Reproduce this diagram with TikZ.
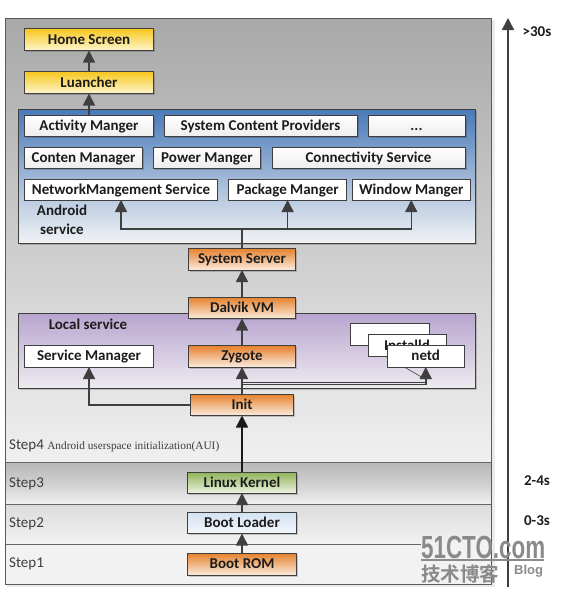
\documentclass[tikz,border=0pt]{standalone}
\usepackage{fontspec}
\setmainfont{Carlito}
\newfontfamily\serifsmall{Liberation Serif}
\newfontfamily\cjkwm{Noto Sans CJK SC}[BoldFont={* Bold}]
\newfontfamily\wmfont{Liberation Sans}
\usetikzlibrary{arrows.meta,shadows,shadings}
\definecolor{ink}{HTML}{1C1C1C}
\definecolor{edge}{HTML}{3F3F3F}
\definecolor{wmgray}{HTML}{8A8A8A}
\definecolor{yelT}{HTML}{F7C71C}
\definecolor{yelB}{HTML}{FEF6CF}
\definecolor{orgT}{HTML}{E5802B}
\definecolor{orgB}{HTML}{FBEBDE}
\definecolor{grnT}{HTML}{8FB358}
\definecolor{grnB}{HTML}{EDF2E0}
\definecolor{bluT}{HTML}{D3E2F2}
\definecolor{bluB}{HTML}{F2F6FB}
\definecolor{panT}{HTML}{4A7AB8}
\definecolor{panB}{HTML}{F1F3F5}
\definecolor{purT}{HTML}{B8A5CF}
\definecolor{purB}{HTML}{EEEBF0}
\newcommand\bx[7]{\node[#1,minimum width={(#5)-(#3)},minimum height={(#6)-(#4)}] (#2) at ({((#3)+(#5))/2},{((#4)+(#6))/2}) {#7};}
\tikzset{
  base/.style={draw=edge,line width=.8pt,inner sep=0pt,outer sep=0pt,font=\fontsize{15}{17}\selectfont\bfseries,text=ink,text height=10.5pt,text depth=1.5pt},
  sh/.style={drop shadow={shadow xshift=1.6pt,shadow yshift=-1.6pt,opacity=.18,fill=black}},
  yellowbox/.style={base,sh,top color=yelT,bottom color=yelB},
  orangebox/.style={base,sh,top color=orgT,bottom color=orgB},
  greenbox/.style={base,sh,top color=grnT,bottom color=grnB},
  bluebox/.style={base,sh,top color=bluT,bottom color=bluB},
  whitebox/.style={base,sh,top color=white,bottom color=black!7},
  plainbox/.style={base,fill=white},
  panelblue/.style={base,sh,top color=panT,bottom color=panB},
  panelpurple/.style={base,sh,top color=purT,bottom color=purB},
  band/.style={draw=none,inner sep=0pt,outer sep=0pt},
  lab/.style={font=\fontsize{15}{17}\selectfont\bfseries,text=ink,inner sep=0pt},
  steplab/.style={font=\fontsize{15}{17}\selectfont,text=ink!85,inner sep=0pt,anchor=west},
  timelab/.style={font=\fontsize{15}{17}\selectfont\bfseries,text=ink,inner sep=0pt},
  arr/.style={draw=edge,line width=1.5pt,-{Triangle[length=12pt,width=12pt]}},
  arrdark/.style={draw=black!90,line width=1.7pt,-{Triangle[length=12pt,width=12pt]}},
  thinline/.style={draw=edge,line width=.6pt},
  divider/.style={draw=black!60,line width=1pt},
  wm/.style={inner sep=0pt,text=wmgray}
}
\begin{document}
\begin{tikzpicture}[x=1pt,y=-1pt]
\useasboundingbox (0,0) rectangle (563,603);
% right shadow of the outer panel
\fill[black!8] (7,20) rectangle (495,587);
% bands
\bx{band,top color=black!34,bottom color=black!6}{s4}{5.5}{18}{491.7}{462}{}
\bx{band,top color=black!28,bottom color=black!6,middle color=black!19}{s3}{5.5}{462}{491.7}{504}{}
\bx{band,top color=black!14,bottom color=black!5}{s2}{5.5}{504}{491.7}{544}{}
\bx{band,fill=black!5}{s1}{5.5}{544}{491.7}{584}{}
\coordinate (dividerend) at (421,544);
\draw[divider] (s4.south west) -- (s4.south east);
\draw[divider] (s3.south west) -- (s3.south east);
\draw[divider] (s2.south west) -- (dividerend);
\draw[draw=black!65,line width=.9pt] (s4.north west) rectangle (s1.south east);
% panels
\bx{panelblue}{android}{18.5}{109.5}{475.7}{243.5}{}
\bx{panelpurple}{local}{18.5}{313.5}{475.7}{388.5}{}
% top boxes
\bx{yellowbox}{home}{24.5}{28.5}{153.5}{50.5}{Home Screen}
\bx{yellowbox}{launcher}{24.5}{71.5}{153.5}{93.5}{Luancher}
% android services
\bx{whitebox}{activity}{24.5}{115}{153.5}{136}{Activity Manger}
\bx{whitebox}{providers}{164}{115}{357}{136}{System Content Providers}
\bx{whitebox}{more}{368}{115}{465}{136}{...}
\bx{whitebox}{content}{24.5}{147}{142.5}{168}{Conten Manager}
\bx{whitebox}{power}{153.5}{147}{260.5}{168}{Power Manger}
\bx{whitebox}{connect}{272}{147}{465}{168}{Connectivity Service}
\bx{plainbox}{network}{24.5}{179}{217.5}{200}{NetworkMangement Service}
\bx{plainbox}{package}{228.5}{179}{346.7}{200}{Package Manger}
\bx{plainbox}{window}{352}{179}{470.5}{200}{Window Manger}
\node[lab,align=center,font=\fontsize{15}{19}\selectfont\bfseries] (androidlab) at (62,220) {Android\\service};
% chain
\bx{orangebox}{server}{188.5}{248}{295.5}{270}{System Server}
\bx{orangebox}{dalvik}{188.5}{297}{295.5}{318.5}{Dalvik VM}
\node[lab] (locallab) at (88,324) {Local service};
\coordinate (junction) at (425,379);
\bx{plainbox}{svcmgr}{24.5}{345.5}{153.5}{367}{Service Manager}
\bx{orangebox}{zygote}{188.5}{345.5}{295.5}{367}{Zygote}
\bx{plainbox}{initone}{350.7}{323.5}{429}{345.5}{}
\draw[thinline] (367,345.5) -- (junction);
\bx{plainbox}{installd}{368}{334.5}{446}{356.5}{Installd}
\bx{plainbox}{netd}{387}{345.5}{464.5}{367}{netd}
\bx{orangebox}{init}{190.5}{394}{293.5}{415.5}{Init}
\bx{greenbox}{kernel}{187.5}{472}{296.5}{493}{Linux Kernel}
\bx{bluebox}{loader}{187.5}{512}{296.5}{533.5}{Boot Loader}
\bx{orangebox}{rom}{187.5}{553}{296.5}{575}{Boot ROM}
% connectors
\coordinate (busy) at (0,229);
\coordinate (nety) at (0,384.5);
\coordinate (nety2) at (0,382.6);
\draw[arr] (launcher.north) -- (home.south);
\draw[arr] (activity.north) -- (launcher.south);
\draw[arr] (server.north) -- (server.north |- busy) -| (network.south);
\draw[arr] (server.north |- busy) -| (package.south);
\draw[arr] (server.north |- busy) -| (window.south);
\draw[arr] (dalvik.north) -- (server.south);
\draw[arr] (zygote.north) -- (dalvik.south);
\draw[arr] (init.north) -- (zygote.south);
\draw[arr] (init.west) -| (svcmgr.south);
\draw[thinline] (init.north |- nety2) -- (netd.south |- nety2);
\draw[arr] (init.north |- nety) -| (netd.south);
\draw[arrdark] (kernel.north) -- (init.south);
\draw[arr] (loader.north) -- (kernel.south);
\draw[arr] (rom.north) -- (loader.south);
% step labels
\node[steplab] (step4) at (9,446) {Step4 {\serifsmall\fontsize{11.3}{13}\selectfont Android userspace initialization(AUI)}};
\node[steplab] (step3) at (9,484) {Step3};
\node[steplab] (step2) at (9,524) {Step2};
\node[steplab] (step1) at (9,564) {Step1};
% time axis
\coordinate (tstart) at (508,587);
\coordinate (tend) at (508,18);
\draw[arr] (tstart) -- (tend);
\node[timelab] (t30) at (537,32) {>30s};
\node[timelab] (t24) at (537,481) {2-4s};
\node[timelab] (t03) at (537,521) {0-3s};
% watermark
\node[wm,anchor=west,font=\wmfont\bfseries\fontsize{32}{32}\selectfont,xscale=.70] (wm1) at (421,547) {51CTO.com};
\coordinate (wmruleA) at (421,560);
\coordinate (wmruleB) at (544,560);
\draw[wmgray,line width=2pt] (wmruleA) -- (wmruleB);
\node[wm,anchor=west,font=\cjkwm\bfseries\fontsize{19.5}{20}\selectfont] (wm2) at (421,574) {技术博客};
\node[wm,anchor=west,font=\wmfont\bfseries\fontsize{13}{14}\selectfont] (wm3) at (514,571) {Blog};
\end{tikzpicture}
\end{document}
